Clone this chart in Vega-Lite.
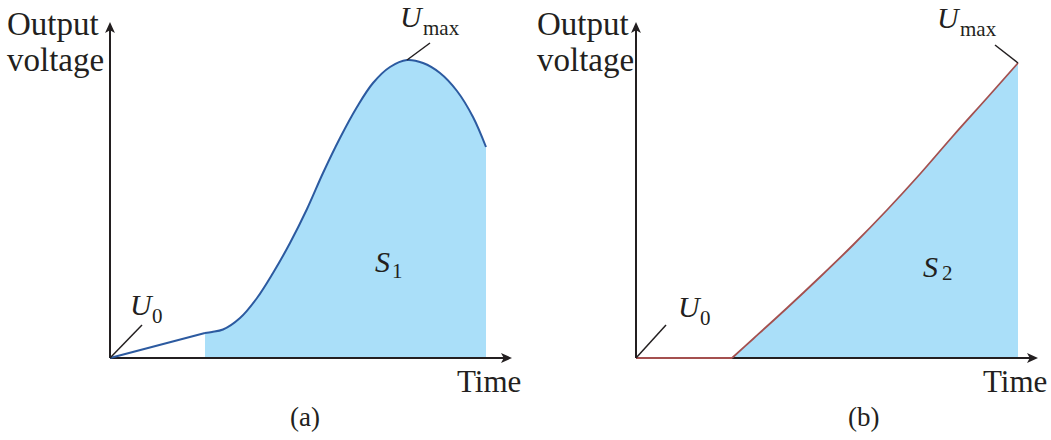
{
  "$schema": "https://vega.github.io/schema/vega-lite/v6.json",
  "background": "white",
  "padding": 0,
  "spacing": 0,
  "config": {"view": {"stroke": null}, "font": "Liberation Serif"},
  "datasets": {
    "curveA": [
      {"part": "lin", "t": 0, "v": 0},
      {"part": "lin", "t": 95, "v": 25},
      {"part": "curve", "t": 95, "v": 25},
      {"part": "curve", "t": 102, "v": 26},
      {"part": "curve", "t": 113, "v": 28.5},
      {"part": "curve", "t": 130, "v": 40},
      {"part": "curve", "t": 147, "v": 60},
      {"part": "curve", "t": 163, "v": 85},
      {"part": "curve", "t": 180, "v": 115},
      {"part": "curve", "t": 197, "v": 149},
      {"part": "curve", "t": 213, "v": 185},
      {"part": "curve", "t": 230, "v": 220},
      {"part": "curve", "t": 247, "v": 251},
      {"part": "curve", "t": 263, "v": 275},
      {"part": "curve", "t": 280, "v": 291},
      {"part": "curve", "t": 297, "v": 298},
      {"part": "curve", "t": 313, "v": 295},
      {"part": "curve", "t": 330, "v": 285},
      {"part": "curve", "t": 347, "v": 267},
      {"part": "curve", "t": 363, "v": 241},
      {"part": "curve", "t": 376, "v": 211}
    ],
    "curveB": [
      {"part": "lin", "t": 0, "v": 0},
      {"part": "lin", "t": 96, "v": 0},
      {"part": "curve", "t": 96, "v": 0},
      {"part": "curve", "t": 117, "v": 19},
      {"part": "curve", "t": 151, "v": 50},
      {"part": "curve", "t": 184, "v": 81},
      {"part": "curve", "t": 217, "v": 113},
      {"part": "curve", "t": 251, "v": 148},
      {"part": "curve", "t": 284, "v": 184},
      {"part": "curve", "t": 317, "v": 222},
      {"part": "curve", "t": 351, "v": 260},
      {"part": "curve", "t": 382, "v": 295}
    ],
    "axes": [
      {"t": 0, "v": 0, "t2": 394, "v2": 0},
      {"t": 0, "v": 0, "t2": 0, "v2": 328}
    ],
    "arrows": [
      {"dir": "right", "t": 396.5, "v": 0},
      {"dir": "up", "t": 0, "v": 330.5}
    ],
    "leadersA": [
      {"t": 0, "v": 0, "t2": 32, "v2": 33},
      {"t": 297, "v": 298, "t2": 320, "v2": 315}
    ],
    "leadersB": [
      {"t": 0, "v": 0, "t2": 30, "v2": 33},
      {"t": 382, "v": 295, "t2": 359, "v2": 313}
    ],
    "textA": [
      {"role": "label", "text": "Output", "t": -103, "v": 323},
      {"role": "label", "text": "voltage", "t": -103, "v": 287},
      {"role": "time", "text": "Time", "t": 347, "v": -34},
      {"role": "caption", "text": "(a)", "t": 180, "v": -68},
      {"role": "var", "text": "U", "t": 290, "v": 331},
      {"role": "sub", "text": "max", "t": 313, "v": 323},
      {"role": "var", "text": "U", "t": 20, "v": 43},
      {"role": "sub", "text": "0", "t": 42, "v": 35},
      {"role": "var", "text": "S", "t": 265, "v": 86},
      {"role": "sub", "text": "1", "t": 282, "v": 80}
    ],
    "textB": [
      {"role": "label", "text": "Output", "t": -99, "v": 323},
      {"role": "label", "text": "voltage", "t": -99, "v": 287},
      {"role": "time", "text": "Time", "t": 347, "v": -34},
      {"role": "caption", "text": "(b)", "t": 212, "v": -68},
      {"role": "var", "text": "U", "t": 301, "v": 330},
      {"role": "sub", "text": "max", "t": 324, "v": 322},
      {"role": "var", "text": "U", "t": 42, "v": 41},
      {"role": "sub", "text": "0", "t": 64, "v": 33},
      {"role": "var", "text": "S", "t": 287, "v": 81},
      {"role": "sub", "text": "2", "t": 306, "v": 78}
    ]
  },
  "hconcat": [
    {
      "width": 525,
      "height": 440,
      "encoding": {
        "x": {"field": "t", "type": "quantitative", "scale": {"domain": [-110, 415], "nice": false, "zero": false}, "axis": null},
        "y": {"field": "v", "type": "quantitative", "scale": {"domain": [-82, 358], "nice": false, "zero": false}, "axis": null}
      },
      "layer": [
        {
          "data": {"name": "curveA"},
          "transform": [{"filter": "datum.part === 'curve'"}],
          "mark": {"type": "area", "interpolate": "catmull-rom", "color": "#aadff9", "opacity": 1},
          "encoding": {"y2": {"value": 358}}
        },
        {
          "data": {"name": "axes"},
          "mark": {"type": "rule", "color": "#231f20", "strokeWidth": 2},
          "encoding": {"x2": {"field": "t2"}, "y2": {"field": "v2"}}
        },
        {
          "data": {"name": "arrows"},
          "transform": [{"filter": "datum.dir === 'right'"}],
          "mark": {"type": "point", "shape": "M1,0L-1,-0.9L-0.5,0L-1,0.9Z", "size": 121, "filled": true, "color": "#231f20", "opacity": 1},
          "encoding": {}
        },
        {
          "data": {"name": "arrows"},
          "transform": [{"filter": "datum.dir === 'up'"}],
          "mark": {"type": "point", "shape": "M0,-1L-0.9,1L0,0.5L0.9,1Z", "size": 121, "filled": true, "color": "#231f20", "opacity": 1},
          "encoding": {}
        },
        {
          "data": {"name": "curveA"},
          "mark": {"type": "line", "interpolate": "catmull-rom", "color": "#2c5aa0", "strokeWidth": 2},
          "encoding": {"detail": {"field": "part"}}
        },
        {
          "data": {"name": "leadersA"},
          "mark": {"type": "rule", "color": "#231f20", "strokeWidth": 1.5},
          "encoding": {"x2": {"field": "t2"}, "y2": {"field": "v2"}}
        },
        {
          "data": {"name": "textA"},
          "transform": [{"filter": "datum.role === 'label'"}],
          "mark": {"type": "text", "align": "left", "baseline": "alphabetic", "fontSize": 33, "font": "Liberation Serif", "color": "#231f20"},
          "encoding": {"text": {"field": "text"}}
        },
        {
          "data": {"name": "textA"},
          "transform": [{"filter": "datum.role === 'time'"}],
          "mark": {"type": "text", "align": "left", "baseline": "alphabetic", "fontSize": 31, "font": "Liberation Serif", "color": "#231f20"},
          "encoding": {"text": {"field": "text"}}
        },
        {
          "data": {"name": "textA"},
          "transform": [{"filter": "datum.role === 'caption'"}],
          "mark": {"type": "text", "align": "left", "baseline": "alphabetic", "fontSize": 27, "font": "Liberation Serif", "color": "#231f20"},
          "encoding": {"text": {"field": "text"}}
        },
        {
          "data": {"name": "textA"},
          "transform": [{"filter": "datum.role === 'var'"}],
          "mark": {"type": "text", "align": "left", "baseline": "alphabetic", "fontSize": 30, "fontStyle": "italic", "font": "Liberation Serif", "color": "#231f20"},
          "encoding": {"text": {"field": "text"}}
        },
        {
          "data": {"name": "textA"},
          "transform": [{"filter": "datum.role === 'sub'"}],
          "mark": {"type": "text", "align": "left", "baseline": "alphabetic", "fontSize": 21, "font": "Liberation Serif", "color": "#231f20"},
          "encoding": {"text": {"field": "text"}}
        }
      ]
    },
    {
      "width": 526,
      "height": 440,
      "encoding": {
        "x": {"field": "t", "type": "quantitative", "scale": {"domain": [-111, 415], "nice": false, "zero": false}, "axis": null},
        "y": {"field": "v", "type": "quantitative", "scale": {"domain": [-82, 358], "nice": false, "zero": false}, "axis": null}
      },
      "layer": [
        {
          "data": {"name": "curveB"},
          "transform": [{"filter": "datum.part === 'curve'"}],
          "mark": {"type": "area", "interpolate": "catmull-rom", "color": "#aadff9", "opacity": 1},
          "encoding": {"y2": {"value": 358}}
        },
        {
          "data": {"name": "axes"},
          "mark": {"type": "rule", "color": "#231f20", "strokeWidth": 2},
          "encoding": {"x2": {"field": "t2"}, "y2": {"field": "v2"}}
        },
        {
          "data": {"name": "arrows"},
          "transform": [{"filter": "datum.dir === 'right'"}],
          "mark": {"type": "point", "shape": "M1,0L-1,-0.9L-0.5,0L-1,0.9Z", "size": 121, "filled": true, "color": "#231f20", "opacity": 1},
          "encoding": {}
        },
        {
          "data": {"name": "arrows"},
          "transform": [{"filter": "datum.dir === 'up'"}],
          "mark": {"type": "point", "shape": "M0,-1L-0.9,1L0,0.5L0.9,1Z", "size": 121, "filled": true, "color": "#231f20", "opacity": 1},
          "encoding": {}
        },
        {
          "data": {"name": "curveB"},
          "mark": {"type": "line", "interpolate": "catmull-rom", "color": "#a4504f", "strokeWidth": 1.8},
          "encoding": {"detail": {"field": "part"}}
        },
        {
          "data": {"name": "leadersB"},
          "mark": {"type": "rule", "color": "#231f20", "strokeWidth": 1.5},
          "encoding": {"x2": {"field": "t2"}, "y2": {"field": "v2"}}
        },
        {
          "data": {"name": "textB"},
          "transform": [{"filter": "datum.role === 'label'"}],
          "mark": {"type": "text", "align": "left", "baseline": "alphabetic", "fontSize": 33, "font": "Liberation Serif", "color": "#231f20"},
          "encoding": {"text": {"field": "text"}}
        },
        {
          "data": {"name": "textB"},
          "transform": [{"filter": "datum.role === 'time'"}],
          "mark": {"type": "text", "align": "left", "baseline": "alphabetic", "fontSize": 31, "font": "Liberation Serif", "color": "#231f20"},
          "encoding": {"text": {"field": "text"}}
        },
        {
          "data": {"name": "textB"},
          "transform": [{"filter": "datum.role === 'caption'"}],
          "mark": {"type": "text", "align": "left", "baseline": "alphabetic", "fontSize": 27, "font": "Liberation Serif", "color": "#231f20"},
          "encoding": {"text": {"field": "text"}}
        },
        {
          "data": {"name": "textB"},
          "transform": [{"filter": "datum.role === 'var'"}],
          "mark": {"type": "text", "align": "left", "baseline": "alphabetic", "fontSize": 30, "fontStyle": "italic", "font": "Liberation Serif", "color": "#231f20"},
          "encoding": {"text": {"field": "text"}}
        },
        {
          "data": {"name": "textB"},
          "transform": [{"filter": "datum.role === 'sub'"}],
          "mark": {"type": "text", "align": "left", "baseline": "alphabetic", "fontSize": 21, "font": "Liberation Serif", "color": "#231f20"},
          "encoding": {"text": {"field": "text"}}
        }
      ]
    }
  ]
}
